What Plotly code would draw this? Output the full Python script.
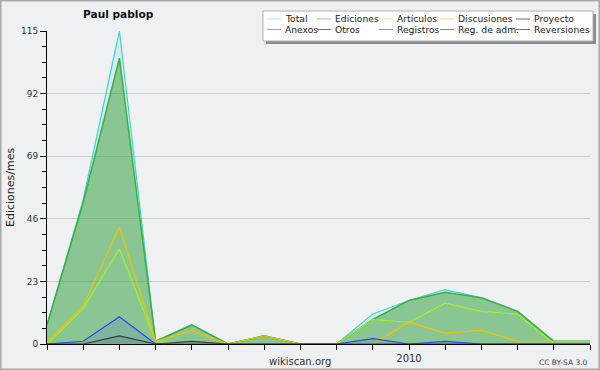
import plotly.graph_objects as go

months = ["2009-03", "2009-04", "2009-05", "2009-06", "2009-07", "2009-08",
          "2009-09", "2009-10", "2009-11", "2009-12", "2010-01", "2010-02",
          "2010-03", "2010-04", "2010-05", "2010-06"]
tick_text = ["", "", "", "", "", "", "", "", "", "", "2010", "", "", "", "", ""]

total       = [7, 53, 115, 1, 7, 0, 3, 0, 0, 11, 16, 20, 17, 12, 1, 1]
ediciones   = [7, 52, 105, 1, 7, 0, 3, 0, 0, 9, 16, 19, 17, 12, 1, 1]
articulos   = [0, 13, 35, 1, 0, 0, 0, 0, 0, 9, 8, 15, 12, 11, 0, 0]
discusiones = [1, 14, 43, 1, 5, 0, 3, 0, 0, 0, 8, 4, 5, 1, 1, 1]
proyecto    = [0, 0, 3, 0, 1, 0, 0, 0, 0, 0, 0, 0, 0, 0, 0, 0]
registros   = [0, 1, 10, 0, 0, 0, 0, 0, 0, 2, 0, 1, 0, 0, 0, 0]

y_ticks = [0, 23, 46, 69, 92, 115]

legend_names = ["Total", "Ediciones", "Artículos", "Discusiones", "Proyecto",
                "Anexos", "Otros", "Registros", "Reg. de adm.", "Reversiones"]
legend_colors = ["#a8e4e4", "#88cc88", "#d4f28a", "#f6d868", "#707070",
                 "#f08a52", "#9050e0", "#8888f0", "#c058e0", "#e04444"]

FONT = "DejaVu Sans, sans-serif"
BG = "#eff0f1"

W, H = 600, 370
L, R, T, B = 47, 10, 31, 26
PW, PH = W - L - R, H - T - B


def px(x):
    return (x - L) / PW


def py(y):
    return (H - B - y) / PH


x = list(range(len(months)))

fig = go.Figure()
series = [
    ("Total", total, "#3ad6d2", "rgba(60,210,210,0.12)", 1.2),
    ("Ediciones", ediciones, "#3cb03c", "rgba(60,160,60,0.5)", 1.5),
    ("Artículos", articulos, "#a6f01e", None, 1.2),
    ("Discusiones", discusiones, "#f2c200", None, 1.2),
    ("Registros", registros, "#2a46f2", "rgba(40,60,240,0.12)", 1.2),
    ("Proyecto", proyecto, "#3c3c3c", "rgba(40,40,40,0.12)", 1.2),
]
for name, vals, col, fillcol, lw in series:
    fig.add_trace(go.Scatter(
        x=x, y=vals, name=name, mode="lines",
        line=dict(color=col, width=lw),
        fill="tozeroy" if fillcol else None,
        fillcolor=fillcol, showlegend=False, hoverinfo="skip"))

shapes = []
annotations = []

# outer frame
shapes.append(dict(type="rect", xref="paper", yref="paper",
                   x0=px(0.75), x1=px(W - 0.75), y0=py(H - 0.75), y1=py(0.75),
                   line=dict(color="#a8a8a8", width=1.5), layer="below"))

# legend box with shadow
lx0, lx1, ly0, ly1 = 263, 593, 11, 41
shapes.append(dict(type="rect", xref="paper", yref="paper",
                   x0=px(lx0 + 3), x1=px(lx1 + 3), y0=py(ly1 + 3), y1=py(ly0 + 3),
                   fillcolor="#8c8c8c", line=dict(width=0)))
shapes.append(dict(type="rect", xref="paper", yref="paper",
                   x0=px(lx0), x1=px(lx1), y0=py(ly1), y1=py(ly0),
                   fillcolor="white", line=dict(color="#b0b0b0", width=1)))

col_text_x = [284, 334, 396, 457, 533]
row_y = [19, 29.5]
for i, (nm, c) in enumerate(zip(legend_names, legend_colors)):
    r, k = divmod(i, 5)
    tx = col_text_x[k]
    yy = row_y[r]
    shapes.append(dict(type="line", xref="paper", yref="paper",
                       x0=px(tx - 17), x1=px(tx - 3), y0=py(yy), y1=py(yy),
                       line=dict(color=c, width=1)))
    annotations.append(dict(text=nm, xref="paper", yref="paper",
                            x=px(tx - 1), y=py(yy), xanchor="left", yanchor="middle",
                            showarrow=False, font=dict(family=FONT, size=9.2, color="#222")))

# title
annotations.append(dict(text="<b>Paul pablop</b>", xref="paper", yref="paper",
                        x=px(118), y=py(14), xanchor="center", yanchor="middle",
                        showarrow=False, font=dict(family=FONT, size=10.6, color="#111")))
# y-axis title
annotations.append(dict(text="Ediciones/mes", xref="paper", yref="paper",
                        x=px(10), y=py(188), xanchor="center", yanchor="middle",
                        textangle=-90, showarrow=False,
                        font=dict(family=FONT, size=11, color="#222")))
annotations.append(dict(text="wikiscan.org", xref="paper", yref="paper",
                        x=px(300), y=py(361), xanchor="center", yanchor="middle",
                        showarrow=False, font=dict(family=FONT, size=10, color="#333")))
annotations.append(dict(text="CC BY-SA 3.0", xref="paper", yref="paper",
                        x=px(590), y=py(362), xanchor="right", yanchor="middle",
                        showarrow=False, font=dict(family=FONT, size=7.5, color="#444")))

fig.update_layout(
    width=W, height=H,
    margin=dict(l=L, r=R, t=T, b=B, pad=0, autoexpand=False),
    paper_bgcolor=BG, plot_bgcolor=BG,
    showlegend=False,
    shapes=shapes, annotations=annotations,
    xaxis=dict(range=[0, len(months) - 1], tickvals=x, ticktext=tick_text,
               automargin=False,
               ticks="outside", ticklen=5, tickcolor="black", tickwidth=1,
               showline=True, linecolor="black", linewidth=1,
               showgrid=False, zeroline=False,
               tickfont=dict(family=FONT, size=10, color="#333")),
    yaxis=dict(range=[0, 115], tickvals=y_ticks, automargin=False,
               ticks="outside", ticklen=6, tickcolor="black", tickwidth=1,
               showline=True, linecolor="black", linewidth=1,
               showgrid=True, gridcolor="#cdcdcd", gridwidth=1,
               zeroline=False,
               minor=dict(dtick=5.75, tick0=0, ticks="outside", ticklen=4,
                          tickcolor="black", showgrid=False),
               tickfont=dict(family=FONT, size=9, color="#333")),
)

fig.write_html("out.html",
               config={"displayModeBar": False},
               post_script="document.body.style.margin='0';document.body.style.padding='0';")
